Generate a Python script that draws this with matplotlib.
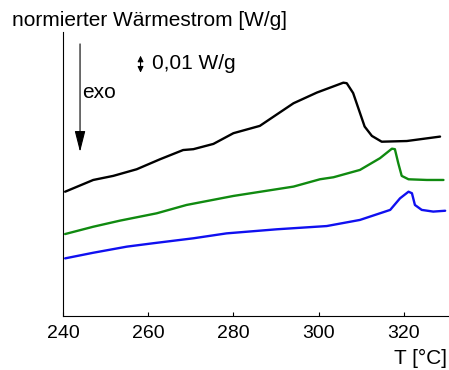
import matplotlib.pyplot as plt

plt.rcParams['font.family'] = ['Liberation Sans', 'DejaVu Sans']

# Temperatures [°C] and heat flow [W/g] (arbitrary offsets)
t_black = [240.5, 247.1, 251.8, 257.3, 262.8, 268.2, 270.6, 275.3, 280.0, 286.2, 289.4,
           294.1, 299.6, 305.8, 306.6, 308.1, 310.8, 312.5, 314.8, 320.7, 328.5]
q_black = [0.0731, 0.0800, 0.0824, 0.0863, 0.0922, 0.0976, 0.0981, 0.1012, 0.1075, 0.1118, 0.1172,
           0.1251, 0.1314, 0.1372, 0.1369, 0.1311, 0.1114, 0.1059, 0.1025, 0.1029, 0.1055]

t_green = [240.5, 247.1, 253.4, 262.0, 269.0, 280.0, 294.1, 300.3, 303.5, 309.7, 314.4,
           317.2, 317.9, 318.7, 319.5, 321.1, 325.4, 329.3]
q_green = [0.0482, 0.0525, 0.0561, 0.0604, 0.0653, 0.0706, 0.0761, 0.0804, 0.0816, 0.0859, 0.0928,
           0.0984, 0.0981, 0.0898, 0.0824, 0.0804, 0.0800, 0.0800]

t_blue = [240.5, 247.1, 255.0, 261.2, 270.6, 278.4, 290.2, 301.9, 309.7, 316.8, 319.1,
          321.1, 321.9, 322.6, 324.2, 326.9, 329.7]
q_blue = [0.0339, 0.0372, 0.0408, 0.0428, 0.0457, 0.0486, 0.0510, 0.0529, 0.0565, 0.0624, 0.0692,
          0.0731, 0.0722, 0.0653, 0.0624, 0.0614, 0.0619]

x_ticks = [240, 260, 280, 300, 320]
scale_bar = 0.01  # W/g


def main():
    fig = plt.figure(figsize=(4.49, 3.70), dpi=100, facecolor="w")
    ax = fig.add_axes([0.1403, 0.1459, 0.8597, 0.7676])

    for t, q, c in ((t_black, q_black, "black"),
                    (t_green, q_green, "#108a10"),
                    (t_blue, q_blue, "#1010f0")):
        ax.plot(t, q, color=c, lw=1.7, solid_joinstyle="round", solid_capstyle="round")

    ax.set_xlim(240, 330.6)
    ax.set_ylim(0, 0.167)
    ax.set_xticks(x_ticks)
    ax.set_yticks([])
    ax.tick_params(axis="x", direction="in", length=3, width=0.8, labelsize=14, pad=6.5)
    ax.spines["top"].set_visible(False)
    ax.spines["right"].set_visible(False)
    for s in ("left", "bottom"):
        ax.spines[s].set_linewidth(0.8)

    # exo arrow
    ax.annotate("", xy=(244.0, 0.0965), xytext=(244.0, 0.160),
                arrowprops=dict(arrowstyle="-|>,head_length=1.3,head_width=0.33",
                                color="black", lw=0.8, shrinkA=0, shrinkB=0))
    ax.text(244.6, 0.1312, "exo", fontsize=15, va="center", ha="left")

    # scale bar
    ax.annotate("", xy=(258.2, 0.1431), xytext=(258.2, 0.1431 + scale_bar),
                arrowprops=dict(arrowstyle="<|-|>,head_length=0.35,head_width=0.17",
                                color="black", lw=0.8, shrinkA=0, shrinkB=0))
    ax.text(261.0, 0.1486, "0,01 W/g", fontsize=15, va="center", ha="left")

    fig.text(12 / 449, 1 - 21 / 370, "normierter Wärmestrom [W/g]", fontsize=15,
             ha="left", va="center")
    fig.text(447 / 449, 1 - 358 / 370, "T [°C]", fontsize=15, ha="right", va="center")

    plt.savefig("out.png", dpi=100)


if __name__ == "__main__":
    main()
